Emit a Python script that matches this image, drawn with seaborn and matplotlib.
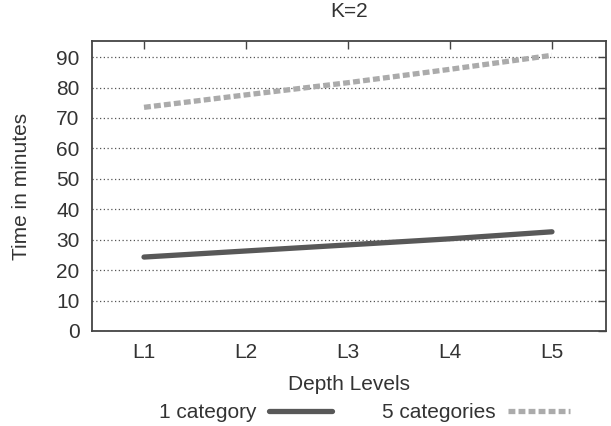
import matplotlib
matplotlib.use("Agg")
import matplotlib.pyplot as plt
import seaborn as sns
import pandas as pd
from matplotlib.lines import Line2D

levels = ["L1", "L2", "L3", "L4", "L5"]
one_category = [24.3, 26.3, 28.3, 30.3, 32.6]
five_categories = [73.5, 77.6, 81.6, 86.0, 90.6]
series_names = ["1 category", "5 categories"]

df = pd.DataFrame({
    "level": levels * 2,
    "time": one_category + five_categories,
    "series": [series_names[0]] * 5 + [series_names[1]] * 5,
})

sns.set_theme(style="white")
plt.rcParams["font.family"] = ["Liberation Sans", "DejaVu Sans"]
txt = "#333333"
fs = 15
lw = 3.8

fig = plt.figure(figsize=(6.11, 4.26), dpi=100)
ax = fig.add_axes([92/611, 1 - 331/426, (606-92)/611, (331-41)/426])

sns.lineplot(data=df, x="level", y="time", hue="series", style="series",
             palette={series_names[0]: "#585858", series_names[1]: "#ababab"},
             dashes={series_names[0]: (None, None), series_names[1]: (1.3, 0.6)},
             linewidth=lw, ax=ax, legend=False, sort=False)

ax.set_xlim(-0.51, 4.53)
ax.set_ylim(0, 95.3)
ax.set_yticks(range(0, 91, 10))
ax.set_xlabel("Depth Levels", fontsize=fs, color=txt, labelpad=9)
ax.set_ylabel("Time in minutes", fontsize=fs, color=txt, labelpad=18)
ax.set_title("K=2", fontsize=fs, color=txt, pad=17)
ax.grid(axis="y", linestyle=(0, (1, 2)), color="#555555", linewidth=0.9)
for s in ax.spines.values():
    s.set_color("#444444")
    s.set_linewidth(1.3)
ax.tick_params(axis="both", direction="in", length=6, width=1, color="#444444",
               labelsize=fs, labelcolor=txt, top=True, right=True, pad=9)

handles = [Line2D([], [], color="#585858", lw=lw),
           Line2D([], [], color="#ababab", lw=lw, dashes=(1.3, 0.6))]
fig.legend(handles, series_names, loc="center", bbox_to_anchor=(0.597, 0.032),
           ncol=2, frameon=False, markerfirst=False, fontsize=fs,
           labelcolor=txt, handlelength=3.0, handletextpad=0.6,
           columnspacing=2.4, borderpad=0, borderaxespad=0)

fig.savefig("out.png", dpi=100)
